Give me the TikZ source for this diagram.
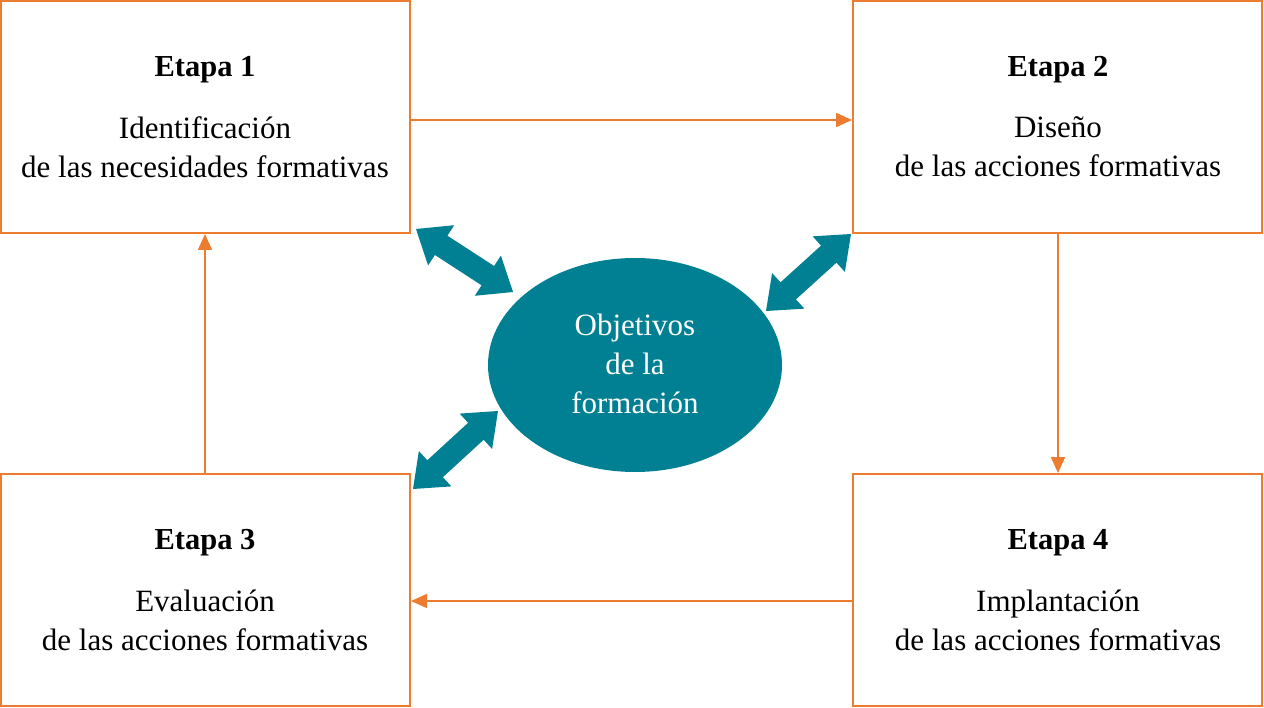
\documentclass[tikz,border=0pt]{standalone}
\usepackage{fontspec}
\setmainfont{Liberation Serif}
\usetikzlibrary{arrows.meta,shapes.geometric,calc}
\definecolor{orng}{RGB}{236,124,48}
\definecolor{tealc}{RGB}{0,128,146}
\tikzset{
  box/.style={draw=orng, line width=2pt, minimum width=409pt, minimum height=232pt, inner sep=0pt},
  flow/.style={draw=orng, line width=1.8pt, -{Triangle[length=16pt,width=14pt]}},
  dblfill/.style={fill=tealc},
  ttl/.style={font=\fontsize{30.5}{36}\selectfont\bfseries},
  txt/.style={font=\fontsize{31}{39}\selectfont, align=center},
}
% double arrow polygon between two named coordinates
\newcommand\dblarr[2]{%
  \fill[dblfill] (#1)
    -- ($(#1)!30pt!(#2)!24pt!90:(#2)$)
    -- ($(#1)!30pt!(#2)!11.5pt!90:(#2)$)
    -- ($(#2)!30pt!(#1)!11.5pt!-90:(#1)$)
    -- ($(#2)!30pt!(#1)!24pt!-90:(#1)$)
    -- (#2)
    -- ($(#2)!30pt!(#1)!24pt!90:(#1)$)
    -- ($(#2)!30pt!(#1)!11.5pt!90:(#1)$)
    -- ($(#1)!30pt!(#2)!11.5pt!-90:(#2)$)
    -- ($(#1)!30pt!(#2)!24pt!-90:(#2)$)
    -- cycle;}
\begin{document}
\begin{tikzpicture}[x=1pt,y=-1pt]
\useasboundingbox (0,0) rectangle (1264,708);
\node[box] (b1) at (205.5,117) {};
\node[box] (b2) at (1057.5,117) {};
\node[box] (b3) at (205.5,590) {};
\node[box] (b4) at (1057.5,590) {};
\node[ellipse, fill=tealc, minimum width=294pt, minimum height=214pt, inner sep=0pt] (obj) at (635,365) {};
\node[ttl] (t1) at (205,70) {Etapa 1};
\node[txt] (d1) at (205,147) {Identificación\\de las necesidades formativas};
\node[ttl] (t2) at (1058,70) {Etapa 2};
\node[txt] (d2) at (1058,147) {Diseño\\de las acciones formativas};
\node[ttl] (t3) at (205,543) {Etapa 3};
\node[txt] (d3) at (205,620) {Evaluación\\de las acciones formativas};
\node[ttl] (t4) at (1058,543) {Etapa 4};
\node[txt] (d4) at (1058,620) {Implantación\\de las acciones formativas};
\node[txt, text=white] (o) at (635,364) {Objetivos\\de la\\formación};
\draw[flow] (410,120) -- (b2.west |- 0,120);
\draw[flow] (b2.south -| 1058,0) -- (b4.north -| 1058,0);
\draw[flow] (b4.west |- 0,601) -- (b3.east |- 0,601);
\draw[flow] (b3.north -| 205,0) -- (b1.south -| 205,0);
\coordinate (a1s) at (416,229);
\coordinate (a1e) at (513,292);
\coordinate (a2s) at (413,489);
\coordinate (a2e) at (498,411);
\coordinate (a3s) at (766,311);
\coordinate (a3e) at (851,234);
\dblarr{a1s}{a1e}
\dblarr{a2s}{a2e}
\dblarr{a3s}{a3e}
\end{tikzpicture}
\end{document}
